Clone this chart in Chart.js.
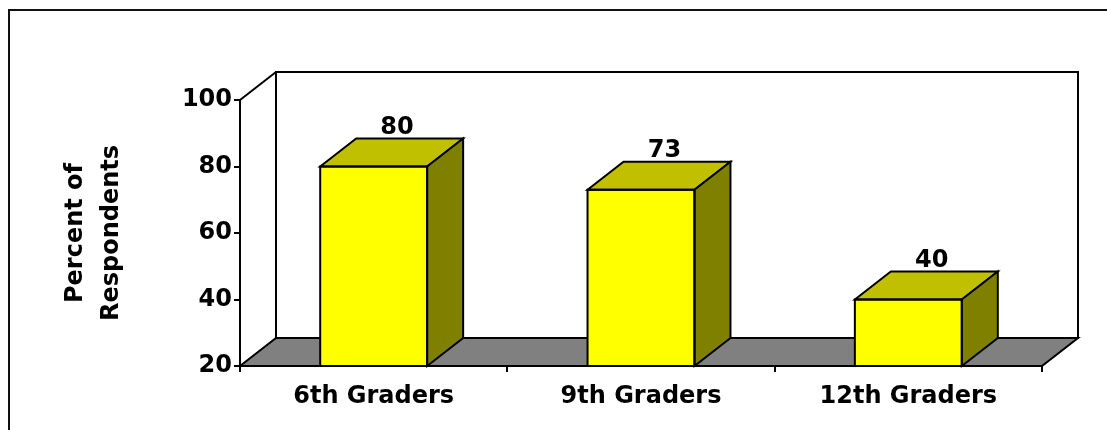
<!DOCTYPE html>
<html>
<head>
<meta charset="utf-8">
<script src="https://cdn.jsdelivr.net/npm/chart.js@4.4.1/dist/chart.umd.min.js"></script>
<style>
  html, body { margin: 0; padding: 0; background: #fff; }
  canvas { display: block; }
</style>
</head>
<body>
<canvas id="chart" width="1107" height="430"></canvas>
<script>
const categories = ['6th Graders', '9th Graders', '12th Graders'];
const percentValues = [80, 73, 40];
const yTicks = [20, 40, 60, 80, 100];
const yTitle = ['Percent of', 'Respondents'];

// depth of the 3D box (back plane offset)
const DX = 36;
const DY = -28;

const FRONT = '#FFFF00';
const TOP = '#C0C000';
const SIDE = '#808000';
const FLOOR = '#808080';

function poly(ctx, pts, fill) {
  ctx.beginPath();
  ctx.moveTo(pts[0][0], pts[0][1]);
  for (let i = 1; i < pts.length; i++) ctx.lineTo(pts[i][0], pts[i][1]);
  ctx.closePath();
  if (fill) {
    ctx.fillStyle = fill;
    ctx.fill();
  }
  ctx.stroke();
}

const frame = {
  id: 'frame',
  beforeDraw(chart) {
    const ctx = chart.ctx;
    ctx.save();
    ctx.strokeStyle = '#111';
    ctx.lineWidth = 2;
    ctx.strokeRect(9, 10, 1300, 600);
    ctx.restore();
  },
  beforeDatasetsDraw(chart) {
    const { ctx, chartArea: a } = chart;
    ctx.save();
    ctx.strokeStyle = '#000';
    ctx.lineWidth = 2;
    // back wall and side wall
    poly(ctx, [[a.left + DX, a.top + DY], [a.right + DX, a.top + DY], [a.right + DX, a.bottom + DY], [a.left + DX, a.bottom + DY]], '#fff');
    ctx.beginPath();
    ctx.moveTo(a.left, a.top);
    ctx.lineTo(a.left + DX, a.top + DY);
    ctx.stroke();
    // floor
    poly(ctx, [[a.left, a.bottom], [a.left + DX, a.bottom + DY], [a.right + DX, a.bottom + DY], [a.right, a.bottom]], FLOOR);
    ctx.restore();
  },
  afterDatasetsDraw(chart) {
    const { ctx, chartArea: a } = chart;
    const meta = chart.getDatasetMeta(0);
    ctx.save();
    ctx.strokeStyle = '#000';
    ctx.lineWidth = 2;
    meta.data.forEach((bar, i) => {
      const l = bar.x - bar.width / 2;
      const r = bar.x + bar.width / 2;
      const t = bar.y;
      const b = Math.min(bar.base, a.bottom);
      poly(ctx, [[l, t], [l + DX, t + DY], [r + DX, t + DY], [r, t]], TOP);
      poly(ctx, [[r, t], [r + DX, t + DY], [r + DX, b + DY], [r, b]], SIDE);
      poly(ctx, [[l, t], [r, t], [r, b], [l, b]], null);
      ctx.fillStyle = '#000';
      ctx.font = 'bold 24px "DejaVu Sans"';
      ctx.textAlign = 'center';
      ctx.textBaseline = 'middle';
      ctx.fillText(String(percentValues[i]), bar.x + DX * 0.65, t + DY - 11);
    });
    ctx.restore();
  }
};

Chart.defaults.font.family = '"DejaVu Sans"';
Chart.defaults.font.weight = 'bold';
Chart.defaults.font.size = 24;
Chart.defaults.color = '#000';

new Chart(document.getElementById('chart'), {
  type: 'bar',
  data: {
    labels: categories,
    datasets: [{
      data: percentValues,
      backgroundColor: FRONT,
      borderColor: '#000',
      borderWidth: 0,
      categoryPercentage: 1,
      barPercentage: 0.4
    }]
  },
  options: {
    responsive: false,
    animation: false,
    events: [],
    layout: { padding: { left: 0, top: 100, right: 65, bottom: 0 } },
    plugins: {
      legend: { display: false },
      tooltip: { enabled: false }
    },
    scales: {
      x: {
        afterFit(scale) { scale.height = 64; },
        grid: {
          offset: true,
          drawOnChartArea: false,
          tickLength: 6,
          color: '#000',
          lineWidth: 2
        },
        border: { display: true, color: '#000', width: 2 },
        ticks: { padding: 10, font: { size: 24, weight: 'bold' } }
      },
      y: {
        min: 20,
        max: 100,
        afterFit(scale) { scale.width = 240; },
        afterBuildTicks(scale) { scale.ticks = yTicks.map(v => ({ value: v })); },
        grid: {
          drawOnChartArea: false,
          tickLength: 6,
          color: '#000',
          lineWidth: 2
        },
        border: { display: true, color: '#000', width: 2 },
        ticks: { padding: 2, font: { size: 24, weight: 'bold' } },
        title: {
          display: true,
          text: yTitle,
          padding: { top: 58, bottom: 0 },
          font: { size: 24, weight: 'bold', lineHeight: 1.5 }
        }
      }
    }
  },
  plugins: [frame]
});
</script>
</body>
</html>
